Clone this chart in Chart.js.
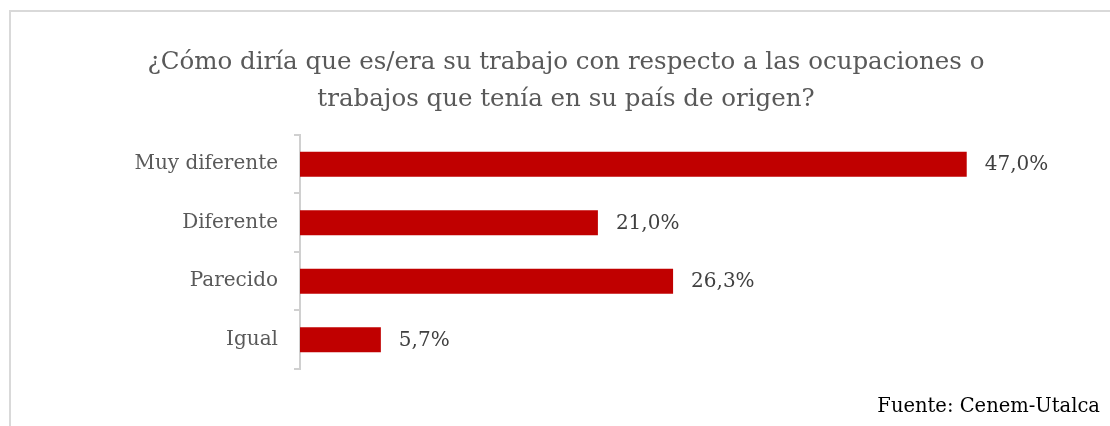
<!DOCTYPE html>
<html lang="es">
  <head>
    <meta charset="utf-8" />
    <script src="https://cdn.jsdelivr.net/npm/chart.js"></script>
    <title>Trabajo vs país de origen</title>
    <style>
      body {
        margin: 0;
        padding: 0;
        background: #ffffff;
      }

      .marco {
        position: absolute;
        left: 9px;
        top: 10px;
        width: 1200px;
        height: 500px;
        border: 2px solid #d9d9d9;
        box-sizing: border-box;
      }

      #grafico {
        position: absolute;
        left: 0;
        top: 0;
      }
    </style>
  </head>
  <body>
    <div class="marco"></div>
    <canvas id="grafico" width="1110" height="426"></canvas>

    <script>
      // datos
      var categorias = ["Muy diferente", "Diferente", "Parecido", "Igual"];
      var valores = [47.0, 21.0, 26.3, 5.7];
      var titulo = [
        "¿Cómo diría que es/era su trabajo con respecto a las ocupaciones o",
        "trabajos que tenía en su país de origen?"
      ];
      var fuente = "Fuente: Cenem-Utalca";

      var serif = "'DejaVu Serif', 'Liberation Serif', serif";

      // etiquetas de porcentaje y la fuente
      var etiquetas = {
        id: "etiquetas",
        afterDatasetsDraw: function (chart) {
          var ctx = chart.ctx;
          var meta = chart.getDatasetMeta(0);
          ctx.save();
          ctx.font = "20px " + serif;
          ctx.fillStyle = "#404040";
          ctx.textAlign = "left";
          ctx.textBaseline = "middle";
          meta.data.forEach(function (bar, i) {
            var txt = valores[i].toFixed(1).replace(".", ",") + "%";
            ctx.fillText(txt, bar.x + 18, bar.y + 1);
          });
          ctx.font = "19.5px " + serif;
          ctx.fillStyle = "#000000";
          ctx.textAlign = "right";
          ctx.textBaseline = "alphabetic";
          ctx.fillText(fuente, 1100, 412);
          ctx.restore();
        }
      };

      var ctx = document.getElementById("grafico").getContext("2d");
      var miGrafico = new Chart(ctx, {
        type: "bar",
        data: {
          labels: categorias,
          datasets: [{
            data: valores,
            backgroundColor: "#C00000",
            borderWidth: 0,
            barPercentage: 0.43,
            categoryPercentage: 1
          }]
        },
        options: {
          indexAxis: "y",
          responsive: false,
          animation: false,
          layout: {
            padding: { left: 22, right: 0, top: 0, bottom: 57 }
          },
          plugins: {
            legend: { display: false },
            tooltip: { enabled: false },
            title: {
              display: true,
              text: titulo,
              color: "#595959",
              font: { family: serif, size: 24.5, weight: "normal", lineHeight: 1.51 },
              padding: { top: 44, bottom: 17 }
            }
          },
          scales: {
            x: {
              display: false,
              min: 0,
              max: 57.1
            },
            y: {
              afterFit: function (scale) {
                scale.width = 278;
              },
              grid: {
                display: true,
                drawOnChartArea: false,
                drawTicks: true,
                tickLength: 6,
                offset: true,
                color: "#d0d0d0",
                lineWidth: 2
              },
              border: { display: true, color: "#d0d0d0", width: 2 },
              ticks: {
                color: "#595959",
                padding: 16,
                font: { family: serif, size: 20 }
              }
            }
          }
        },
        plugins: [etiquetas]
      });
    </script>
  </body>
</html>
